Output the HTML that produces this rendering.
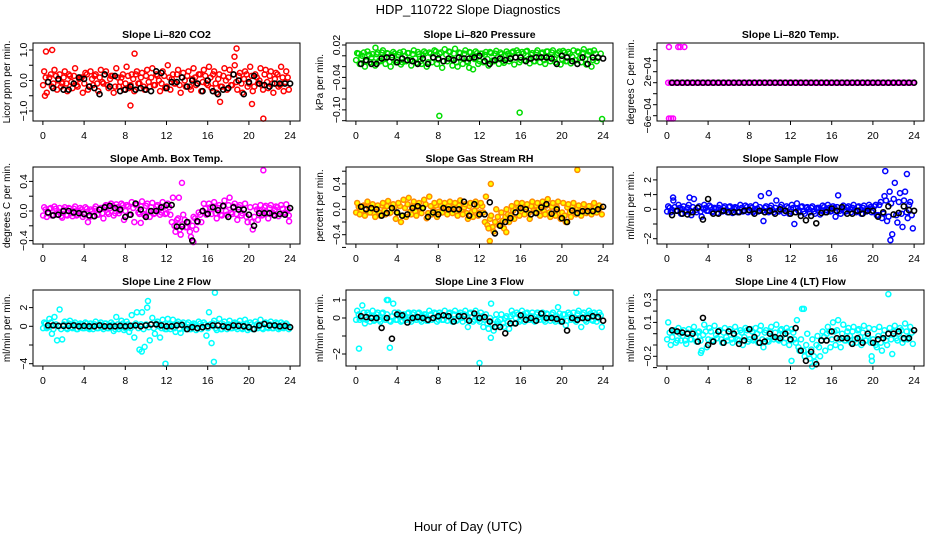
<!DOCTYPE html>
<html><head><meta charset="utf-8"><style>
html,body{margin:0;padding:0;background:#fff;}
svg{display:block;font-family:"Liberation Sans",Arial,sans-serif;}
</style></head><body>
<svg id="chart" width="936" height="540" viewBox="0 0 936 540" xmlns="http://www.w3.org/2000/svg">
<rect width="936" height="540" fill="#fff"/>
<text x="468" y="14" text-anchor="middle" font-size="13">HDP_110722  Slope Diagnostics</text>
<text x="468" y="531" text-anchor="middle" font-size="13">Hour of Day (UTC)</text>
</svg>
<script>
// ---------- data ----------
const xTicks = [0,4,8,12,16,20,24];
const co2Values = [0.3,-0.4,0.1,-0.2,0.35,-0.3,0.2,-0.1,0.3,-0.35,0.15,-0.25,0.4,-0.2,0.1,-0.4,0.25,-0.3,0.3,-0.15,0.2,-0.35,0.35,-0.1,0.3,-0.25,0.15,-0.4,0.4,-0.2,0.1,-0.3,0.45,-0.25,0.2,-0.35,0.3,-0.1,0.25,-0.3,0.35,-0.2,0.4,-0.15,0.15,-0.35,0.3,-0.25,0.5,-0.3,0.2,-0.1,0.35,-0.4,0.25,-0.2,0.3,-0.3,0.4,-0.15,0.2,-0.35,0.35,-0.1,0.45,-0.25,0.3,-0.4,0.2,-0.2,0.4,-0.3,0.35,-0.15,0.5,-0.3,0.25,-0.4,0.3,-0.2,0.45,-0.35,0.2,-0.1,0.4,-0.3,0.35,-0.25,0.3,-0.4,0.25,-0.2,0.45,-0.35,0.3,-0.3];
const co2Fill = [-0.15,0.1,-0.05,0.2,-0.1,0.15,0.0,-0.2,0.1,-0.1,0.2,-0.05,0.15,-0.15,0.05,0.1,-0.1,0.2,-0.2,0.05,0.15,-0.1,0.1,-0.05,0.2,-0.15,0.05,0.15,-0.2,0.1,-0.05,0.2,-0.1,0.15,-0.15,0.05,0.2,-0.1,0.1,-0.2,0.15,-0.05,0.1,-0.15,0.2,0.0,-0.1,0.15,-0.2,0.1,0.05,-0.1,0.2,-0.15,0.1,0.0,0.15,-0.2,0.05,0.1,-0.1,0.2,-0.05,0.15,-0.15,0.1,0.2,-0.1,0.05,-0.2,0.15,0.0,0.1,-0.15,0.2,-0.05,0.15,-0.1,0.05,0.2,-0.1,0.15,-0.2,0.1,0.0,-0.15,0.2,-0.05,0.15,-0.1,0.05,0.2,-0.15,0.1,-0.05,0.1];
const co2OutHours = [0.3,0.9,8.5,8.9,18.8,18.6,20.3,21.4,17.2,0.2];
const co2OutValues = [0.95,1.0,-0.82,0.88,1.05,0.78,-0.77,-1.25,-0.7,-0.5];
const co2Black = [-0.05,-0.25,0.05,-0.3,-0.3,-0.1,0.1,0.05,-0.2,-0.25,-0.45,0.2,-0.2,0.15,-0.35,-0.3,-0.2,-0.3,-0.25,-0.3,-0.35,0.3,0.25,-0.25,-0.05,-0.05,0.1,-0.2,0.0,-0.1,-0.35,0.0,-0.35,-0.45,-0.3,-0.25,0.2,0.0,-0.45,-0.05,0.15,-0.1,-0.15,-0.2,-0.1,-0.1,-0.1,-0.1];

const presValues = [0.005,-0.015,0.0,-0.02,0.008,-0.012,0.003,-0.018,0.006,-0.01,0.01,-0.015,0.004,-0.02,0.007,-0.012,0.002,-0.016,0.008,-0.01,0.005,-0.018,0.01,-0.013,0.003,-0.015,0.008,-0.02,0.006,-0.012,0.01,-0.015,0.004,-0.022,0.012,-0.01,0.007,-0.018,0.013,-0.02,0.005,-0.015,0.01,-0.012,0.006,-0.025,0.008,-0.015,0.004,-0.012,0.007,-0.018,0.005,-0.01,0.009,-0.015,0.003,-0.013,0.008,-0.01,0.006,-0.016,0.01,-0.012,0.007,-0.008,0.009,-0.014,0.005,-0.01,0.01,-0.012,0.006,-0.015,0.008,-0.01,0.01,-0.012,0.005,-0.016,0.009,-0.01,0.007,-0.014,0.01,-0.008,0.006,-0.012,0.012,-0.016,0.008,-0.02,0.01,-0.01];
const presFill = [-0.008,0.004,-0.005,0.006,-0.01,0.002,-0.003,-0.012,0.003,-0.009,0.006,-0.004,0.005,-0.011,0.001,0.004,-0.008,0.006,-0.012,0.0,0.005,-0.008,0.003,-0.005,0.007,-0.01,0.001,0.005,-0.012,0.004,-0.004,0.008,-0.007,0.006,-0.01,0.002,0.008,-0.006,0.004,-0.012,0.006,-0.004,0.004,-0.01,0.007,-0.002,-0.006,0.005,-0.01,0.004,0.002,-0.006,0.007,-0.009,0.004,-0.002,0.006,-0.01,0.002,0.004,-0.006,0.008,-0.003,0.006,-0.008,0.004,0.008,-0.006,0.002,-0.01,0.006,-0.002,0.004,-0.008,0.008,-0.003,0.006,-0.006,0.002,0.008,-0.006,0.006,-0.01,0.004,-0.002,-0.008,0.008,-0.004,0.006,-0.006,0.002,0.008,-0.008,0.004,-0.004,0.004];
const presOutHours = [8.1,15.9,23.9,1.9,11.0];
const presOutValues = [-0.111,-0.105,-0.117,0.015,-0.022];
const presBlack = [-0.015,-0.008,-0.015,-0.015,-0.005,-0.003,-0.003,-0.012,-0.005,-0.008,-0.01,-0.015,-0.005,-0.015,-0.003,-0.005,-0.01,-0.005,-0.008,-0.003,-0.005,-0.005,-0.003,0.0,-0.01,-0.015,-0.008,-0.005,-0.008,-0.005,-0.003,-0.003,-0.01,-0.005,-0.003,-0.003,-0.003,-0.005,-0.015,0.0,-0.003,-0.01,-0.015,-0.003,-0.015,-0.003,-0.003,-0.005];

const tempValues = [0,0,0,0,0,0,0,0,0,0,0,0,0,0,0,0,0,0,0,0,0,0,0,0,0,0,0,0,0,0,0,0,0,0,0,0,0,0,0,0,0,0,0,0,0,0,0,0,0,0,0,0,0,0,0,0,0,0,0,0,0,0,0,0,0,0,0,0,0,0,0,0,0,0,0,0,0,0,0,0,0,0,0,0,0,0,0,0,0,0,0,0,0,0,0,0];
const tempFill = [];
const tempOutHours = [0.2,1.1,1.3,1.7,0.2,0.4,0.6];
const tempOutValues = [0.00065,0.00065,0.00065,0.00065,-0.00065,-0.00065,-0.00065];
const tempBlack = [0,0,0,0,0,0,0,0,0,0,0,0,0,0,0,0,0,0,0,0,0,0,0,0,0,0,0,0,0,0,0,0,0,0,0,0,0,0,0,0,0,0,0,0,0,0,0,0];

const ambValues = [0.05,-0.08,0.03,-0.06,0.06,-0.05,0.04,-0.09,0.05,-0.06,0.03,-0.07,0.06,-0.05,0.04,-0.08,0.05,-0.15,0.02,-0.07,0.06,-0.05,0.04,-0.1,0.08,-0.04,0.1,-0.06,0.09,-0.03,0.1,-0.12,0.08,-0.05,0.12,-0.15,0.09,-0.04,0.13,-0.06,0.1,-0.08,0.11,-0.03,0.08,-0.05,0.12,-0.04,0.1,-0.05,0.18,-0.28,-0.1,-0.32,-0.05,-0.22,-0.15,-0.35,-0.08,-0.25,-0.02,-0.15,0.1,-0.05,0.1,-0.04,0.12,-0.1,0.08,-0.06,0.14,-0.05,0.18,-0.04,0.1,-0.12,0.08,-0.03,0.1,-0.15,0.05,-0.25,0.06,-0.12,0.08,-0.05,0.07,-0.1,0.08,-0.05,0.06,-0.07,0.08,-0.04,0.09,-0.06];
const ambFill = [-0.06,0.02,-0.03,0.04,-0.05,0.03,-0.01,-0.07,0.02,-0.05,0.04,-0.03,0.03,-0.06,0.0,0.02,-0.05,0.03,-0.08,0.0,0.03,-0.05,0.02,-0.03,0.06,-0.02,0.04,0.07,-0.03,0.05,0.0,0.08,0.0,0.06,-0.05,0.04,0.08,-0.02,0.06,-0.04,0.07,0.0,0.05,-0.04,0.06,0.02,-0.02,0.06,-0.03,0.05,-0.15,-0.2,-0.12,-0.25,-0.18,-0.12,-0.22,-0.28,-0.2,-0.1,-0.15,-0.05,0.0,0.03,-0.03,0.05,0.06,-0.03,0.04,-0.05,0.06,0.0,0.08,-0.02,0.06,-0.04,0.05,-0.06,0.02,-0.08,-0.05,-0.15,-0.08,0.02,0.0,-0.06,0.05,-0.03,0.04,-0.02,0.02,0.05,-0.04,0.03,-0.02,0.02];
const ambOutHours = [13.5,21.4,23.9,13.2,14.6,9.5];
const ambOutValues = [0.38,0.55,-0.14,0.18,-0.42,-0.16];
const ambBlack = [-0.02,-0.06,-0.05,0,0,-0.02,-0.03,-0.04,-0.06,-0.07,0.02,0.05,0.07,0.04,0.02,-0.08,-0.05,0.1,0.02,-0.08,0,0,0.05,0.08,0.08,-0.21,-0.21,-0.15,-0.4,-0.14,0,-0.04,0.05,0.01,0.07,-0.08,0.05,0.02,0.02,-0.05,-0.2,-0.03,-0.03,-0.03,-0.06,-0.04,-0.05,0.04];

const rhValues = [0.1,-0.08,0.05,-0.1,0.12,-0.05,0.08,-0.12,0.06,-0.1,0.1,-0.08,0.13,-0.05,0.08,-0.15,0.1,-0.2,0.15,-0.12,0.18,-0.08,0.12,-0.1,0.1,-0.06,0.15,-0.14,0.2,-0.08,0.1,-0.12,0.12,-0.05,0.1,-0.08,0.12,-0.06,0.1,-0.1,0.14,-0.08,0.08,-0.15,0.1,-0.12,0.12,-0.1,0.1,-0.05,0.2,-0.3,-0.1,-0.35,0.0,-0.25,-0.05,-0.3,0.0,-0.2,0.05,-0.15,0.1,-0.1,0.1,-0.08,0.08,-0.15,0.12,-0.05,0.1,-0.1,0.12,-0.08,0.16,-0.12,0.1,-0.1,0.12,-0.15,0.1,-0.2,0.08,-0.12,0.1,-0.08,0.06,-0.1,0.08,-0.06,0.05,-0.08,0.1,-0.05,0.06,-0.08];
const rhFill = [-0.05,0.04,-0.02,0.06,-0.06,0.03,0.0,-0.07,0.03,-0.05,0.06,-0.02,0.05,-0.06,0.02,0.04,-0.06,0.05,-0.1,0.02,0.08,-0.04,0.05,-0.03,0.06,-0.04,0.02,0.08,-0.06,0.05,-0.02,0.06,-0.04,0.05,-0.04,0.02,0.06,-0.03,0.04,-0.05,0.06,-0.02,0.03,-0.06,0.05,-0.04,-0.02,0.05,-0.05,0.05,-0.2,-0.25,-0.15,-0.28,-0.2,-0.12,-0.22,-0.18,-0.12,-0.08,-0.1,-0.02,0.02,0.04,-0.04,0.05,0.03,-0.06,0.05,-0.02,0.06,0.0,0.06,-0.03,0.06,-0.05,0.04,-0.06,0.03,-0.06,-0.05,-0.1,0.03,-0.05,0.05,-0.03,0.02,-0.04,0.04,-0.02,0.02,0.05,-0.03,0.03,-0.02,0.03];
const rhOutHours = [13.1,21.5,13.0,14.6];
const rhOutValues = [0.4,0.62,-0.5,-0.36];
const rhBlack = [0.04,0.0,0.02,0.0,-0.1,-0.06,0.02,-0.05,-0.1,-0.08,0.02,0.05,0.02,-0.12,-0.05,-0.08,0.02,0.0,0.0,0.0,0.12,-0.1,0.08,-0.08,-0.08,0.11,-0.38,-0.26,-0.2,-0.14,-0.05,0.02,0.0,-0.08,-0.06,0.03,0.08,-0.07,0.0,-0.14,-0.2,-0.02,-0.06,-0.03,-0.03,-0.03,0.0,0.04];

const sampleValues = [0.2,-0.2,0.6,-0.1,0.3,-0.3,0.2,-0.15,0.3,-0.4,0.7,-0.2,0.2,-0.5,0.3,-0.1,0.25,-0.2,0.1,-0.25,0.3,-0.15,0.2,-0.2,0.2,-0.25,0.15,-0.2,0.3,-0.15,0.25,-0.2,0.2,-0.2,0.3,-0.15,0.9,-0.8,0.2,-0.2,0.25,-0.2,0.6,-0.15,0.3,-0.25,0.2,-0.3,0.3,-1.0,0.4,-0.2,0.2,-0.3,0.15,-0.2,0.2,-0.3,0.1,-0.35,0.25,-0.2,0.3,-0.15,0.2,-0.5,0.95,-0.3,0.25,-0.15,0.2,-0.2,0.3,-0.2,0.2,-0.3,0.25,-0.15,0.3,-0.2,0.2,-0.4,0.3,-0.6,0.9,-0.8,1.2,-1.7,1.8,-0.9,1.1,-1.2,1.2,-0.6,0.5,-1.3];
const sampleFill = [-0.15,0.1,-0.05,0.15,-0.1,0.1,0.0,-0.15,0.1,-0.1,0.15,-0.05,0.1,-0.15,0.05,0.1,-0.1,0.15,-0.15,0.05,0.1,-0.1,0.1,-0.05,0.15,-0.1,0.05,0.1,-0.15,0.1,-0.05,0.15,-0.1,0.1,-0.1,0.05,0.15,-0.1,0.1,-0.15,0.1,-0.05,0.1,-0.1,0.15,0.0,-0.1,0.1,-0.15,0.1,0.05,-0.1,0.15,-0.15,0.1,0.0,0.1,-0.15,0.05,0.1,-0.1,0.15,-0.05,0.1,-0.1,0.1,0.15,-0.1,0.05,-0.15,0.1,0.0,0.1,-0.1,0.15,-0.05,0.1,-0.1,0.05,0.15,-0.1,0.3,-0.4,0.5,-0.3,0.6,-0.5,0.4,0.7,-0.4,0.5,-0.3,0.6,-0.2,0.3,-0.4];
const sampleOutHours = [21.2,23.3,21.7,9.9,0.6,2.2];
const sampleOutValues = [2.6,2.4,-2.1,1.1,0.8,0.8];
const sampleBlack = [-0.4,-0.1,-0.3,-0.35,-0.2,0.1,-0.7,0.7,-0.3,-0.3,-0.1,-0.2,-0.2,-0.2,-0.1,-0.05,-0.3,-0.1,-0.2,-0.1,-0.3,0.0,-0.1,-0.3,-0.2,-0.45,-0.75,-0.45,-0.95,-0.25,-0.2,0.05,-0.1,0.15,-0.3,-0.3,-0.1,-0.3,-0.1,-0.1,-0.5,-0.2,0.2,-0.35,-0.25,0.2,-0.05,-0.1];

const line2Values = [0.4,-0.2,0.8,-0.8,1.0,-1.5,1.8,-1.4,0.5,-0.3,0.6,-0.2,0.4,-0.3,0.3,-0.2,0.4,-0.2,0.3,-0.3,0.5,-0.2,0.4,-0.3,0.3,-0.2,0.4,-0.5,1.0,-0.3,0.6,-0.4,0.5,-0.6,1.2,-1.2,1.5,-2.5,1.5,-2.2,2.0,-1.5,0.9,-0.8,0.5,-1.2,0.7,-0.3,0.8,-0.3,0.7,-0.6,0.5,-0.7,0.4,-0.3,0.4,-0.3,0.3,-0.4,0.5,-0.3,0.4,-1.0,1.5,-1.8,0.6,-0.4,0.8,-0.3,0.5,-0.3,0.6,-0.2,0.4,-0.3,0.6,-0.3,0.7,-0.4,0.4,-0.3,0.5,-0.2,0.7,-0.3,0.4,-0.2,0.5,-0.2,0.4,-0.3,0.4,-0.2,0.3,-0.3];
const line2Fill = [-0.2,0.3,-0.1,0.4,-0.3,0.2,0.0,-0.3,0.2,-0.2,0.3,-0.1,0.2,-0.3,0.1,0.2,-0.2,0.3,-0.3,0.1,0.2,-0.2,0.2,-0.1,0.3,-0.2,0.1,0.2,-0.3,0.2,-0.1,0.3,-0.2,0.2,-0.2,0.1,0.3,-0.2,0.2,-0.3,0.2,-0.1,0.2,-0.2,0.3,0.0,-0.2,0.2,-0.3,0.2,0.1,-0.2,0.3,-0.3,0.2,0.0,0.2,-0.3,0.1,0.2,-0.2,0.3,-0.1,0.2,-0.2,0.2,0.3,-0.2,0.1,-0.3,0.2,0.0,0.2,-0.2,0.3,-0.1,0.2,-0.2,0.1,0.3,-0.2,0.2,-0.3,0.2,0.0,-0.2,0.3,-0.1,0.2,-0.2,0.1,0.3,-0.2,0.2,-0.1,0.1];
const line2OutHours = [10.2,11.9,16.7,16.6,9.6];
const line2OutValues = [2.7,-4.0,3.6,-3.8,-2.7];
const line2Black = [0.1,0.1,0.05,0.05,0.05,0.1,0.0,0.05,0.0,0.0,0.1,0.0,0.0,0.0,0.05,0.0,0.05,0.1,0.0,0.1,0.2,0.2,0.1,0.0,0.0,0.1,0.15,-0.3,-0.1,-0.2,-0.1,0.0,0.1,0.1,0.0,-0.1,0.1,0.05,0.0,-0.1,-0.3,0.1,0.25,0.1,0.1,0.0,0.05,-0.1];

const line3Values = [0.4,-0.1,0.7,-0.3,0.3,-0.2,0.4,-0.1,0.3,-0.2,0.3,-0.1,1.0,-0.2,0.8,-0.1,0.3,-0.2,0.2,-0.1,0.3,-0.2,0.3,-0.1,0.3,-0.2,0.2,-0.15,0.4,-0.1,0.3,-0.2,0.3,-0.1,0.4,-0.15,0.3,-0.2,0.4,-0.1,0.3,-0.2,0.4,-0.5,0.3,-0.2,0.4,-0.1,0.3,-0.5,0.2,-0.6,0.8,-0.7,0.2,-0.4,0.2,-0.5,0.1,-0.6,0.4,-0.3,0.3,-0.2,0.4,-0.2,0.3,-0.1,0.3,-0.2,0.3,-0.1,0.3,-0.2,0.2,-0.15,0.3,-0.2,0.6,-0.2,0.2,-0.4,0.3,-0.1,0.3,-0.2,0.4,-0.5,0.3,-0.2,0.4,-0.1,0.3,-0.2,0.3,-0.5];
const line3Fill = [-0.1,0.2,0.0,0.3,-0.1,0.2,0.1,-0.15,0.2,-0.1,0.25,0.0,0.2,-0.15,0.1,0.3,-0.1,0.2,-0.15,0.1,0.25,-0.1,0.2,0.0,0.25,-0.1,0.1,0.2,-0.15,0.2,0.0,0.25,-0.1,0.2,-0.1,0.1,0.25,-0.1,0.2,-0.15,0.2,0.0,0.2,-0.1,0.25,0.05,-0.1,0.2,-0.2,0.1,-0.1,-0.3,0.0,-0.35,-0.1,-0.2,-0.1,-0.3,0.0,-0.2,0.1,0.2,0.0,0.2,-0.1,0.2,0.25,-0.1,0.1,-0.15,0.2,0.05,0.2,-0.1,0.25,0.0,0.2,-0.1,0.1,0.25,-0.1,0.2,-0.15,0.2,0.05,-0.1,0.25,0.0,0.2,-0.1,0.1,0.25,-0.15,0.2,0.0,0.15];
const line3OutHours = [0.3,3.3,12.0,21.4,13.1,3.0];
const line3OutValues = [-1.7,-1.65,-2.5,1.4,-1.1,1.0];
const line3Black = [0.1,0.05,0.0,0.0,-0.55,0.0,-1.15,0.2,0.15,-0.25,0.0,0.05,0.0,-0.1,0.0,0.1,0.15,0.1,-0.2,0.1,0.1,-0.15,0.25,0.0,0.05,-0.2,-0.5,-0.5,-0.85,-0.3,-0.3,0.15,-0.1,0.0,-0.15,0.25,0.0,0.0,-0.05,-0.2,-0.7,0.0,-0.1,0.0,0.0,0.1,0.05,-0.15];

const line4Values = [0.1,-0.1,0.02,-0.08,0.05,-0.06,0.03,-0.09,0.04,-0.05,0.06,-0.07,0.02,-0.15,0.08,-0.12,0.05,-0.06,0.07,-0.04,0.03,-0.08,0.05,-0.06,0.04,-0.08,0.06,-0.05,0.03,-0.1,0.05,-0.07,0.04,-0.06,0.05,-0.08,0.07,-0.12,0.03,-0.07,0.06,-0.05,0.08,-0.06,0.04,-0.08,0.05,-0.1,0.04,-0.05,0.12,-0.15,0.22,-0.2,0.0,-0.22,-0.05,-0.25,-0.02,-0.2,0.02,-0.15,0.06,-0.12,0.1,-0.1,0.12,-0.12,0.08,-0.06,0.05,-0.08,0.06,-0.08,0.04,-0.1,0.07,-0.06,0.05,-0.2,0.04,-0.12,0.06,-0.15,0.03,-0.1,0.05,-0.18,0.07,-0.06,0.05,-0.08,0.09,-0.05,0.06,-0.09];
const line4Fill = [-0.05,0.01,-0.03,0.03,-0.06,0.0,-0.02,-0.06,0.01,-0.05,0.02,-0.03,0.01,-0.06,-0.01,0.02,-0.05,0.02,-0.06,-0.01,0.02,-0.05,0.01,-0.03,0.02,-0.05,-0.01,0.02,-0.06,0.01,-0.03,0.03,-0.05,0.02,-0.05,0.0,0.03,-0.05,0.01,-0.06,0.02,-0.03,0.01,-0.05,0.03,-0.01,-0.04,0.02,-0.06,0.01,-0.08,-0.12,-0.05,-0.15,-0.1,-0.18,-0.14,-0.2,-0.1,-0.12,-0.06,-0.03,0.0,0.02,-0.05,0.02,0.03,-0.05,0.0,-0.06,0.02,-0.02,0.02,-0.05,0.03,-0.03,0.01,-0.06,-0.02,-0.08,-0.05,-0.1,-0.02,-0.08,-0.01,-0.06,0.0,-0.05,0.02,-0.04,0.0,0.03,-0.05,0.02,-0.03,0.01];
const line4OutHours = [21.5,13.3,14.1,12.1,19.9,3.3];
const line4OutValues = [0.35,0.22,-0.29,-0.24,-0.24,-0.17];
const line4Black = [0.03,0.02,0.01,0.0,0.0,-0.07,0.14,-0.1,-0.07,0.02,-0.08,0.02,0.0,-0.09,-0.06,0.04,-0.03,-0.08,-0.07,0.0,-0.03,-0.04,0.0,-0.05,0.05,-0.15,-0.24,-0.16,-0.27,-0.06,-0.06,0.02,-0.04,-0.04,-0.04,-0.09,-0.04,-0.08,0.0,-0.08,-0.05,-0.04,0.0,0.0,0.02,-0.04,-0.04,0.03];

// ---------- layout ----------
const svg = document.getElementById('chart');
const NS = 'http://www.w3.org/2000/svg';
const colLeft = [33, 346, 657];
const rowTop = [43, 167, 290];
const rowBottom = [121, 244, 366];
const PW = 267;

function mk(tag, attrs, parent) {
  const e = document.createElementNS(NS, tag);
  for (const k in attrs) e.setAttribute(k, attrs[k]);
  (parent || svg).appendChild(e);
  return e;
}

const panels = [
  {name:'co2', title:'Slope Li\u2013820 CO2', ylab:'Licor ppm per min.', col:0,row:0, y0:80.5, k:30.5, ticks:[-1,-0.5,0,0.5,1], labels:{'1':'1.0','0':'0.0','-1':'\u22121.0'}, color:'#ff0000', fill:'none', vals:co2Values, fvals:co2Fill, oh:co2OutHours, ov:co2OutValues, blk:co2Black},
  {name:'pressure', title:'Slope Li\u2013820 Pressure', ylab:'kPa per min.', col:1,row:0, y0:55.8, k:540.7, ticks:[0.02,0,-0.02,-0.04,-0.06,-0.08,-0.10,-0.12], labels:{'0.02':'0.02','-0.04':'\u22120.04','-0.1':'\u22120.10'}, color:'#00dd00', fill:'none', vals:presValues, fvals:presFill, oh:presOutHours, ov:presOutValues, blk:presBlack},
  {name:'li820-temp', title:'Slope Li\u2013820 Temp.', ylab:'degrees C per min.', col:2,row:0, y0:82.7, k:55000, ticks:[0.0006,0.0004,0.0002,0,-0.0002,-0.0004,-0.0006], labels:{'0.0002':'2e\u221204','-0.0006':'\u22126e\u221204'}, color:'#ff00ff', fill:'none', vals:tempValues, fvals:tempFill, oh:tempOutHours, ov:tempOutValues, blk:tempBlack},
  {name:'amb-box-temp', title:'Slope Amb. Box Temp.', ylab:'degrees C per min.', col:0,row:1, y0:211, k:74, ticks:[0.4,0.2,0,-0.2,-0.4], labels:{'0.4':'0.4','0':'0.0','-0.4':'\u22120.4'}, color:'#ff00ff', fill:'none', vals:ambValues, fvals:ambFill, oh:ambOutHours, ov:ambOutValues, blk:ambBlack},
  {name:'gas-stream-rh', title:'Slope Gas Stream RH', ylab:'percent per min.', col:1,row:1, y0:209.3, k:63.5, ticks:[0.6,0.4,0.2,0,-0.2,-0.4,-0.6], labels:{'0.4':'0.4','0':'0.0','-0.4':'\u22120.4'}, color:'#ff8c00', fill:'#ffff00', vals:rhValues, fvals:rhFill, oh:rhOutHours, ov:rhOutValues, blk:rhBlack},
  {name:'sample-flow', title:'Slope Sample Flow', ylab:'ml/min per min.', col:2,row:1, y0:209.3, k:14.7, ticks:[2,1,0,-1,-2], labels:{'2':'2','1':'1','0':'0','-2':'\u22122'}, color:'#0000ff', fill:'none', vals:sampleValues, fvals:sampleFill, oh:sampleOutHours, ov:sampleOutValues, blk:sampleBlack},
  {name:'line2-flow', title:'Slope Line 2 Flow', ylab:'ml/min per min.', col:0,row:2, y0:326.3, k:9.35, ticks:[2,0,-2,-4], labels:{'2':'2','0':'0','-4':'\u22124'}, color:'#00ffff', fill:'none', vals:line2Values, fvals:line2Fill, oh:line2OutHours, ov:line2OutValues, blk:line2Black},
  {name:'line3-flow', title:'Slope Line 3 Flow', ylab:'ml/min per min.', col:1,row:2, y0:318, k:18, ticks:[1,0,-1,-2], labels:{'1':'1','0':'0','-2':'\u22122'}, color:'#00ffff', fill:'none', vals:line3Values, fvals:line3Fill, oh:line3OutHours, ov:line3OutValues, blk:line3Black},
  {name:'line4-flow', title:'Slope Line 4 (LT) Flow', ylab:'ml/min per min.', col:2,row:2, y0:333.7, k:113, ticks:[0.3,0.2,0.1,0,-0.1,-0.2,-0.3], labels:{'0.3':'0.3','0.1':'0.1','-0.2':'\u22120.2'}, color:'#00ffff', fill:'none', vals:line4Values, fvals:line4Fill, oh:line4OutHours, ov:line4OutValues, blk:line4Black}
];

panels.forEach(p => {
  const L = colLeft[p.col], T = rowTop[p.row], B = rowBottom[p.row];
  const xs = h => L + (h + 0.96) * PW / 25.92;
  const ys = v => p.y0 - v * p.k;
  const g = mk('g', {});
  
  

  const t = mk('text', {x: L + PW/2, y: T - 5, 'text-anchor':'middle', 'font-size':'10.5', 'font-weight':'bold'}, g);
  
  
  t.textContent = p.title;

  const yl = mk('text', {transform:`translate(${L-23},${(T+B)/2}) rotate(-90)`, 'text-anchor':'middle', 'font-size':'10'}, g);
  
  
  yl.textContent = p.ylab;

  xTicks.forEach(h => {
    const x = xs(h);
    mk('line', {x1:x, x2:x, y1:B, y2:B+4, stroke:'#000', 'stroke-width':1}, g);
    const lt = mk('text', {x:x, y:B+18, 'text-anchor':'middle', 'font-size':'10.5'}, g);
    
    
    lt.textContent = String(h);
  });
  p.ticks.forEach(v => {
    const y = ys(v);
    mk('line', {x1:L-4, x2:L, y1:y, y2:y, stroke:'#000', 'stroke-width':1}, g);
    const key = String(+v.toFixed(6));
    if (p.labels[key] !== undefined) {
      const lt = mk('text', {transform:`translate(${L-6},${y}) rotate(-90)`, 'text-anchor':'middle', 'font-size':'10.5'}, g);
      
      
      lt.textContent = p.labels[key];
    }
  });

  const cg = mk('g', {fill:p.fill, stroke:p.color, 'stroke-width':1.5}, g);
  
  
  p.fvals.forEach((v, i) => {
    const h = 0.02 + i * 0.25;
    const c = mk('circle', {cx: xs(h), cy: ys(v), r: 2.5}, cg);
    
    
  });
  p.vals.forEach((v, i) => {
    const h = 0.125 + i * 0.25;
    const c = mk('circle', {cx: xs(h), cy: ys(v), r: 2.5}, cg);
    
    
  });
  p.oh.forEach((h, i) => {
    const c = mk('circle', {cx: xs(h), cy: ys(p.ov[i]), r: 2.5}, cg);
    
    
  });
  const bg = mk('g', {fill:'none', stroke:'#000', 'stroke-width':1.6}, g);
  
  
  p.blk.forEach((v, i) => {
    const h = 0.5 + i * 0.5;
    const c = mk('circle', {cx: xs(h), cy: ys(v), r: 2.5}, bg);
    
    
  });

  const box = mk('rect', {x:L, y:T, width:PW, height:B-T, fill:'none', stroke:'#000', 'stroke-width':1}, g);
  
  
});
</script>
</body></html>
